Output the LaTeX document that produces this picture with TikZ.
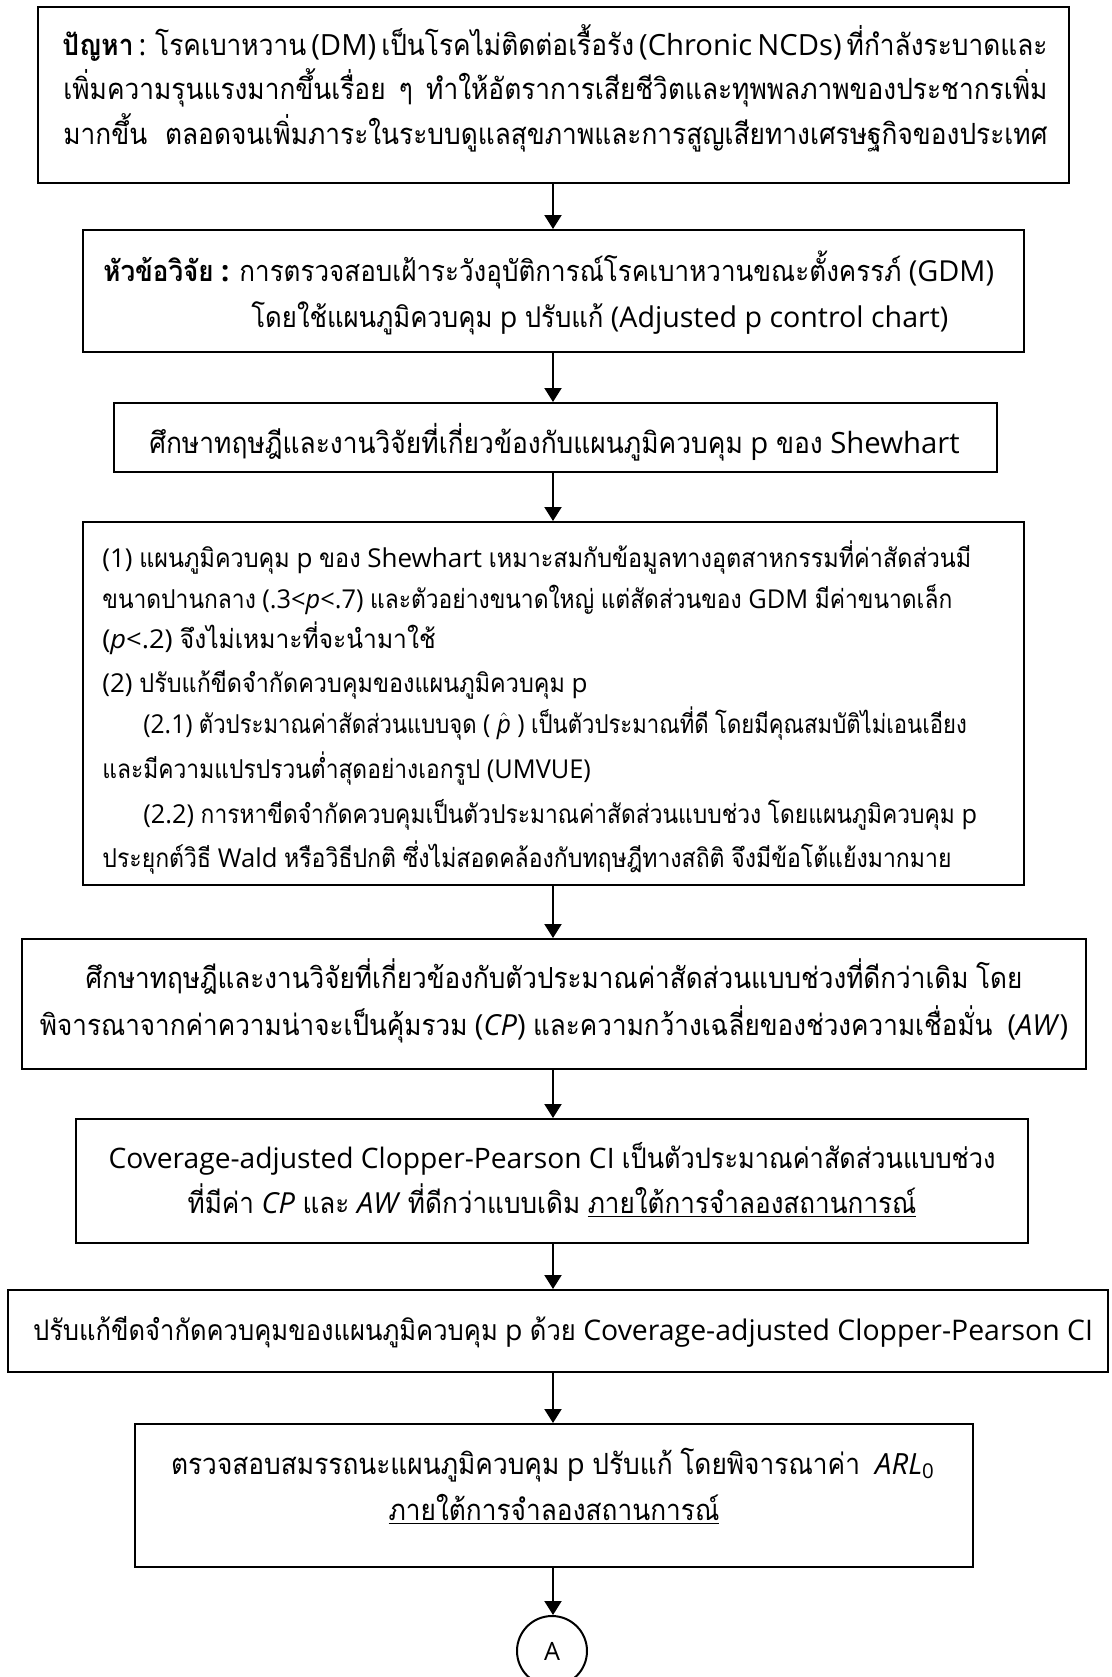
\documentclass[tikz,border=0pt]{standalone}
\usepackage{fontspec}
\usepackage{graphicx}
\setmainfont{Open Sans}
\newfontfamily\thaifont[Script=Thai,FakeStretch=0.9]{Loma}
\XeTeXinterchartokenstate=1
\newXeTeXintercharclass\thaicls
\newcount\thcnt
\thcnt="0E00
\loop\ifnum\thcnt<"0E80 \XeTeXcharclass\thcnt=\thaicls \advance\thcnt by 1 \repeat
\XeTeXinterchartoks 0 \thaicls={\begingroup\thaifont}
\XeTeXinterchartoks 4095 \thaicls={\begingroup\thaifont}
\XeTeXinterchartoks \thaicls 0={\endgroup}
\XeTeXinterchartoks \thaicls 4095={\endgroup}
\usetikzlibrary{arrows.meta}
\newcommand{\fsz}[1]{\fontsize{#1}{#1}\selectfont}
\newcommand{\hsc}[2]{\scalebox{#1}[1]{#2}}
\begin{document}
\begin{tikzpicture}[x=0.5pt,y=-0.5pt,
  boxst/.style={draw, line width=1pt, inner sep=0, rectangle},
  arr/.style={line width=1pt, -{Triangle[length=7pt,width=8.5pt]}},
  tl/.style={inner sep=0, anchor=base west},
  tc/.style={inner sep=0, anchor=base}]
\useasboundingbox (0,0) rectangle (1112,1677);
\clip (0,0) rectangle (1112,1677);
\coordinate (ax) at (553,0);
% boxes
\node[boxst, minimum width=515.5pt, minimum height=88pt] (b1) at (553.5,95) {};
\node[boxst, minimum width=470.5pt, minimum height=61pt] (b2) at (553.5,291) {};
\node[boxst, minimum width=441.5pt, minimum height=34.5pt] (b3) at (555.5,437.5) {};
\node[boxst, minimum width=470.5pt, minimum height=181.5pt] (b4) at (553.5,703.5) {};
\node[boxst, minimum width=532pt, minimum height=65pt] (b5) at (554,1004) {};
\node[boxst, minimum width=476pt, minimum height=62pt] (b6) at (552,1181) {};
\node[boxst, minimum width=550pt, minimum height=41pt] (b7) at (558,1331) {};
\node[boxst, minimum width=419pt, minimum height=71.5pt] (b8) at (554,1495.5) {};
\node[draw, line width=1pt, circle, minimum size=35pt, inner sep=0, font=\fsz{12.6}] (cA) at (552,1651) {A};
% arrows
\draw[arr] (b1.south -| ax) -- (b2.north -| ax);
\draw[arr] (b2.south -| ax) -- (b3.north -| ax);
\draw[arr] (b3.south -| ax) -- (b4.north -| ax);
\draw[arr] (b4.south -| ax) -- (b5.north -| ax);
\draw[arr] (b5.south -| ax) -- (b6.north -| ax);
\draw[arr] (b6.south -| ax) -- (b7.north -| ax);
\draw[arr] (b7.south -| ax) -- (b8.north -| ax);
\draw[arr] (b8.south -| ax) -- (cA.north -| ax);
% box 1
\begin{scope}[every node/.append style={font=\fsz{14.6}}]
\node[tl] (t11) at (62,55) {\makebox[492pt][s]{\textbf{ปัญหา} : โรคเบาหวาน (DM) เป็นโรคไม่ติดต่อเรื้อรัง (Chronic NCDs) ที่กำลังระบาดและ}};
\node[tl] (t12) at (63,99) {\makebox[492pt][s]{เพิ่มความรุนแรงมากขึ้นเรื่อย ๆ ทำให้อัตราการเสียชีวิตและทุพพลภาพของประชากรเพิ่ม}};
\node[tl] (t13) at (63,144) {\makebox[492pt][s]{มากขึ้น ตลอดจนเพิ่มภาระในระบบดูแลสุขภาพและการสูญเสียทางเศรษฐกิจของประเทศ}};
\end{scope}
% box 2
\node[tl, font=\fsz{14.45}] (t21) at (103,281) {\textbf{หัวข้อวิจัย :} การตรวจสอบเฝ้าระวังอุบัติการณ์โรคเบาหวานขณะตั้งครรภ์ (GDM)};
\node[tl, font=\fsz{14.3}] (t22) at (251,327) {โดยใช้แผนภูมิควบคุม p ปรับแก้ (Adjusted p control chart)};
% box 3
\node[tc, font=\fsz{14.65}] (t31) at (554.5,453) {ศึกษาทฤษฎีและงานวิจัยที่เกี่ยวข้องกับแผนภูมิควบคุม p ของ Shewhart};
% box 4
\begin{scope}[every node/.append style={font=\fsz{13}}]
\node[tl] (t41) at (102,567) {(1) แผนภูมิควบคุม p ของ Shewhart เหมาะสมกับข้อมูลทางอุตสาหกรรมที่ค่าสัดส่วนมี};
\node[tl] (t42) at (102,608) {\hsc{0.975}{ขนาดปานกลาง (.3<\textit{p}<.7) และตัวอย่างขนาดใหญ่ แต่สัดส่วนของ GDM มีค่าขนาดเล็ก}};
\node[tl] (t43) at (102,648) {\hsc{1.05}{(\textit{p}<.2) จึงไม่เหมาะที่จะนำมาใช้}};
\node[tl] (t44) at (102,692) {(2) ปรับแก้ขีดจำกัดควบคุมของแผนภูมิควบคุม p};
\node[tl] (t45) at (143,733) {\hsc{0.945}{(2.1) ตัวประมาณค่าสัดส่วนแบบจุด ( $\hat{\textit{p}}$ ) เป็นตัวประมาณที่ดี โดยมีคุณสมบัติไม่เอนเอียง}};
\node[tl] (t46) at (102,778) {\hsc{0.975}{และมีความแปรปรวนต่ำสุดอย่างเอกรูป (UMVUE)}};
\node[tl] (t47) at (143,823) {\hsc{0.975}{(2.2) การหาขีดจำกัดควบคุมเป็นตัวประมาณค่าสัดส่วนแบบช่วง โดยแผนภูมิควบคุม p}};
\node[tl] (t48) at (102,867) {\hsc{0.985}{ประยุกต์วิธี Wald หรือวิธีปกติ ซึ่งไม่สอดคล้องกับทฤษฎีทางสถิติ จึงมีข้อโต้แย้งมากมาย}};
\end{scope}
% box 5
\begin{scope}[every node/.append style={font=\fsz{14.5}}]
\node[tc] (t51) at (554,988) {ศึกษาทฤษฎีและงานวิจัยที่เกี่ยวข้องกับตัวประมาณค่าสัดส่วนแบบช่วงที่ดีกว่าเดิม โดย};
\node[tc] (t52) at (554,1035) {พิจารณาจากค่าความน่าจะเป็นคุ้มรวม (\textit{CP}) และความกว้างเฉลี่ยของช่วงความเชื่อมั่น~ (\textit{AW})};
\end{scope}
% box 6
\node[tc, font=\fsz{14.1}] (t61) at (552,1168) {Coverage-adjusted Clopper-Pearson CI เป็นตัวประมาณค่าสัดส่วนแบบช่วง};
\node[tc, font=\fsz{14.5}] (t62) at (552,1213) {ที่มีค่า \textit{CP} และ \textit{AW} ที่ดีกว่าแบบเดิม \underline{ภายใต้การจำลองสถานการณ์}};
% box 7
\node[tc, font=\fsz{14.2}] (t71) at (563,1340) {ปรับแก้ขีดจำกัดควบคุมของแผนภูมิควบคุม p ด้วย Coverage-adjusted Clopper-Pearson CI};
% box 8
\begin{scope}[every node/.append style={font=\fsz{14.6}}]
\node[tc] (t81) at (553,1474) {ตรวจสอบสมรรถนะแผนภูมิควบคุม p ปรับแก้ โดยพิจารณาค่า~ \textit{ARL}\textsubscript{0}};
\node[tc] (t82) at (554,1520) {\underline{ภายใต้การจำลองสถานการณ์}};
\end{scope}
\end{tikzpicture}
\end{document}
